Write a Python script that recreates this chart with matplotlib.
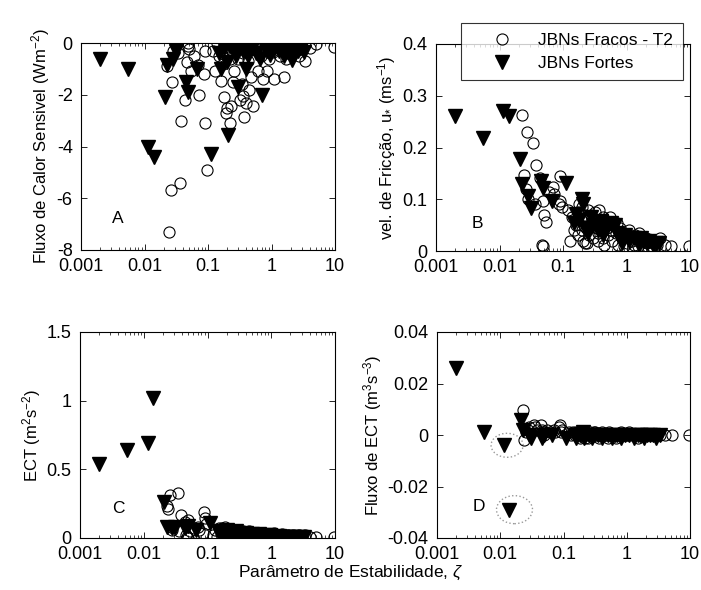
import numpy as np
import matplotlib
matplotlib.use("Agg")
import matplotlib.pyplot as plt
from matplotlib import ticker, transforms
from matplotlib.patches import Ellipse

plt.rcParams['font.family'] = ['Liberation Sans', 'DejaVu Sans']
plt.rcParams['mathtext.fontset'] = 'custom'
plt.rcParams['mathtext.rm'] = 'Liberation Sans'
plt.rcParams['mathtext.it'] = 'Liberation Sans:italic'
plt.rcParams['mathtext.sf'] = 'Liberation Sans'

# ---- JBNs Fortes (triangles) ----
zeta_fortes = [0.002, 0.0055, 0.0115, 0.014, 0.021, 0.023, 0.028, 0.031, 0.045, 0.049, 0.066, 0.11,
               0.15, 0.16, 0.18, 0.2, 0.21, 0.22, 0.25, 0.28, 0.3, 0.35, 0.4, 0.43, 0.5, 0.58,
               0.65, 0.7, 0.8, 0.85, 0.95, 1.1, 1.3, 1.5, 1.6, 1.7, 1.9, 2.1, 2.3, 2.6, 2.9, 3.3]
H_fortes = [-0.6, -1.0, -4.0, -4.4, -2.1, -0.85, -0.6, -0.3, -1.5, -1.9, -1.0, -4.3,
            -0.4, -1.0, -0.2, -0.75, -3.55, -0.1, -0.25, -0.5, -1.7, -0.3, -1.0, -0.5, -0.2, -0.4,
            -0.6, -2.0, -0.1, -0.3, -0.45, -0.2, -0.3, -0.1, -0.5, -0.35, -0.2, -0.65, -0.4, -0.3, -0.2, -0.35]
ustar_fortes = [0.26, 0.218, 0.27, 0.26, 0.177, 0.13, 0.106, 0.084, 0.135, 0.122, 0.097, 0.132,
                0.055, 0.071, 0.06, 0.10, 0.09, 0.045, 0.035, 0.065, 0.05, 0.04, 0.058, 0.03, 0.045, 0.055,
                0.05, 0.035, 0.025, 0.015, 0.03, 0.02, 0.025, 0.02, 0.012, 0.025, 0.02, 0.015, 0.02, 0.012, 0.015, 0.015]
ect_fortes = [0.54, 0.643, 0.69, 1.02, 0.26, 0.08, 0.07, 0.08, 0.07, 0.09, 0.06, 0.11,
              0.04, 0.05, 0.03, 0.06, 0.04, 0.02, 0.03, 0.05, 0.02, 0.03, 0.04, 0.01, 0.03, 0.02,
              0.03, 0.01, 0.02, 0.01, 0.02, 0.01, 0.015, 0.01, 0.005, 0.01, 0.01, 0.005, 0.01, 0.005, 0.01, 0.005]
fect_fortes = [0.026, 0.001, -0.004, -0.029, 0.006, 0.002, 0.0, -0.001, -0.001, 0.0, 0.0, -0.001,
               0.0, -0.001, 0.0, 0.001, -0.001, 0.0, 0.0, -0.001, 0.0, 0.0, -0.001, 0.0, 0.0, -0.001,
               0.0, 0.0, -0.001, 0.0, 0.0, 0.0, -0.001, 0.0, 0.0, 0.0, -0.001, 0.0, 0.0, 0.0, -0.001, 0.0]

# ---- JBNs Fracos - T2 (circles) ----
zeta_fracos = [0.023, 0.024, 0.026, 0.027, 0.028, 0.034, 0.036, 0.038, 0.044, 0.046, 0.048, 0.049,
               0.05, 0.054, 0.061, 0.07, 0.073, 0.086, 0.089, 0.091, 0.095,
               0.12, 0.13, 0.14, 0.15, 0.16, 0.17, 0.18, 0.19, 0.2, 0.21, 0.22, 0.23, 0.24, 0.25,
               0.26, 0.28, 0.3, 0.32, 0.34, 0.36, 0.37, 0.4, 0.42, 0.45, 0.48, 0.52, 0.55, 0.6,
               0.62, 0.68, 0.74, 0.8, 0.84, 0.9, 1.0, 1.1, 1.2, 1.35, 1.5, 1.6, 1.8, 2.0, 2.2,
               2.4, 2.7, 3.0, 3.4, 4.0, 5.1, 9.8,
               0.17, 0.2, 0.22, 0.25, 0.3, 0.35, 0.42, 0.5, 0.58, 0.7, 0.9, 1.05, 1.3, 1.7, 2.1, 2.5]
H_fracos = [-0.9, -7.3, -5.7, -1.5, -0.3, -0.4, -5.4, -3.0, -2.2, -0.75, -0.1, 0.0,
            -0.25, -1.1, -0.5, -0.85, -2.0, -1.2, -0.3, -3.1, -4.9,
            -0.3, -1.1, 0.0, -0.5, -1.45, -0.2, -2.1, -2.7, -2.5, -0.05, -3.1, -2.45, -0.3, -1.5,
            -1.1, 0.0, -0.6, -2.2, -1.6, -2.05, -2.85, -2.3, -0.1, -1.8, -1.3, -2.45, 0.0, -0.3,
            -1.1, -0.5, -1.4, -0.2, -1.1, -0.6, -0.3, -1.4, -0.1, -0.5, -0.2, -1.3, -0.4, -0.1, 0.0,
            -0.3, -0.5, -0.15, -0.7, -0.2, -0.05, -0.15,
            -0.8, -0.15, -0.6, -0.05, -0.15, -0.4, -0.7, -0.15, -0.25, -0.1, -0.1, -0.35, -0.2, -0.6, -0.35, -0.1]
ustar_fracos = [0.263, 0.146, 0.12, 0.23, 0.10, 0.208, 0.09, 0.166, 0.142, 0.012, 0.097, 0.01,
                0.07, 0.057, 0.114, 0.123, 0.11, 0.09, 0.144, 0.097, 0.085,
                0.08, 0.02, 0.065, 0.04, 0.05, 0.03, 0.09, 0.06, 0.085, 0.02, 0.07, 0.045, 0.015, 0.06,
                0.03, 0.07, 0.025, 0.075, 0.05, 0.02, 0.08, 0.04, 0.065, 0.012, 0.055, 0.03, 0.065, 0.02,
                0.05, 0.035, 0.012, 0.045, 0.025, 0.035, 0.015, 0.04, 0.02, 0.03, 0.01, 0.035, 0.02, 0.025, 0.008,
                0.02, 0.015, 0.012, 0.025, 0.012, 0.009, 0.009,
                0.075, 0.04, 0.015, 0.08, 0.055, 0.035, 0.025, 0.045, 0.04, 0.055, 0.01, 0.03, 0.012, 0.028, 0.015, 0.01]
ect_fracos = [0.23, 0.21, 0.31, 0.08, 0.06, 0.33, 0.05, 0.17, 0.12, 0.02, 0.01, 0.0,
              0.13, 0.05, 0.07, 0.08, 0.06, 0.04, 0.19, 0.145, 0.10,
              0.02, 0.06, 0.01, 0.07, 0.03, 0.05, 0.0, 0.08, 0.04, 0.02, 0.06, 0.03, 0.01, 0.05,
              0.02, 0.06, 0.0, 0.04, 0.03, 0.05, 0.01, 0.04, 0.02, 0.05, 0.0, 0.03, 0.04, 0.01,
              0.03, 0.02, 0.04, 0.0, 0.03, 0.02, 0.01, 0.04, 0.0, 0.02, 0.03, 0.01, 0.02, 0.0, 0.02,
              0.01, 0.02, 0.0, 0.02, 0.01, 0.01, 0.01,
              0.07, 0.02, 0.05, 0.03, 0.06, 0.02, 0.03, 0.01, 0.04, 0.02, 0.01, 0.03, 0.01, 0.015, 0.005, 0.01]
fect_fracos = [0.0098, -0.002, 0.001, 0.002, 0.003, 0.0037, 0.003, 0.002, 0.004, 0.002, 0.001, 0.0,
               0.001, 0.002, 0.001, 0.002, 0.001, 0.003, 0.004, 0.001, 0.002,
               0.001, 0.0, 0.001, 0.0, 0.001, 0.0, -0.001, 0.001, 0.0, 0.0, 0.001, 0.0, -0.001, 0.0,
               0.001, 0.0, 0.0, 0.001, 0.0, -0.001, 0.0, 0.001, 0.0, 0.0, 0.0, 0.001, 0.0, 0.0,
               0.0, -0.001, 0.0, 0.001, 0.0, 0.0, 0.0, 0.001, 0.0, 0.0, -0.001, 0.0, 0.0, 0.0, 0.0,
               0.0, 0.0, 0.0, 0.0, 0.0, 0.0, 0.0,
               0.001, 0.0, -0.001, 0.0, 0.001, 0.0, 0.0, -0.001, 0.0, 0.0, 0.0, 0.0, 0.0, 0.0, 0.0, 0.0]

panels = [
    (H_fracos, H_fortes, 'Fluxo de Calor Sensivel (Wm$^{-2}$)', (-8, 0), [-8, -6, -4, -2, 0], 'A'),
    (ustar_fracos, ustar_fortes, 'vel. de Fricção, u$_{*}$ (ms$^{-1}$)', (0, 0.4), [0, 0.1, 0.2, 0.3, 0.4], 'B'),
    (ect_fracos, ect_fortes, 'ECT (m$^{2}$s$^{-2}$)', (0, 1.5), [0, 0.5, 1, 1.5], 'C'),
    (fect_fracos, fect_fortes, 'Fluxo de ECT (m$^{3}$s$^{-3}$)', (-0.04, 0.04), [-0.04, -0.02, 0, 0.02, 0.04], 'D'),
]

rects = [
    [81/701, 340/590, 254/701, 207/590],
    [436/701, 339/590, 254/701, 207/590],
    [80/701, 52/590, 255/701, 206/590],
    [437/701, 52/590, 253/701, 206/590],
]
label_pos = [(0.12, 0.13), (0.14, 0.11), (0.125, 0.12), (0.142, 0.13)]

fig = plt.figure(figsize=(7.01, 5.90), dpi=100)
axes = []
for rect, (yw, ys, ylab, ylim, yt, letter), lp in zip(rects, panels, label_pos):
    ax = fig.add_axes(rect)
    ax.plot(zeta_fracos, yw, 'o', mfc='none', mec='black', mew=0.8, ms=8, label='JBNs Fracos - T2')
    ax.plot(zeta_fortes, ys, 'v', mfc='black', mec='black', ms=9.5, label='JBNs Fortes')
    ax.set_xscale('log')
    ax.set_xlim(0.001, 10)
    ax.set_ylim(*ylim)
    ax.set_yticks(yt)
    ax.yaxis.set_major_formatter(ticker.FuncFormatter(lambda v, p: '%g' % v))
    ax.xaxis.set_major_locator(ticker.FixedLocator([0.001, 0.01, 0.1, 1, 10]))
    ax.xaxis.set_major_formatter(ticker.FuncFormatter(lambda v, p: '%g' % v))
    ax.xaxis.set_minor_locator(ticker.LogLocator(base=10, subs=np.arange(2, 10)))
    ax.xaxis.set_minor_formatter(ticker.NullFormatter())
    ax.tick_params(which='both', direction='in', top=True, right=True, labelsize=13)
    ax.tick_params(axis='x', which='major', pad=6)
    ax.tick_params(axis='y', which='major', pad=6)
    ax.tick_params(which='major', length=4, width=0.6)
    ax.tick_params(which='minor', length=2, width=0.5)
    for sp in ax.spines.values():
        sp.set_linewidth(0.8)
    ax.set_ylabel(ylab, fontsize=12, labelpad=3)
    ax.text(lp[0], lp[1], letter, transform=ax.transAxes, fontsize=12.5)
    axes.append(ax)

leg = axes[1].legend(loc='upper right', bbox_to_anchor=(0.972, 1.101), fancybox=False,
                     edgecolor='black', fontsize=12.5, borderpad=0.55, handletextpad=0.3,
                     labelspacing=0.45, borderaxespad=0, handlelength=3.6)
leg.get_frame().set_linewidth(0.8)
leg.set_zorder(10)

# dotted ellipses around highlighted strong points in panel D
axd = axes[3]
for k, (w, h, dx) in zip([2, 3], [(0.32, 0.24, 0.03), (0.36, 0.28, 0.05)]):
    trans = fig.dpi_scale_trans + transforms.ScaledTranslation(zeta_fortes[k], fect_fortes[k], axd.transData)
    e = Ellipse((dx, 0), w, h, transform=trans, fill=False, ec='#999999', ls=':', lw=1.0)
    axd.add_artist(e)

fig.text(0.5, 0.022, 'Parâmetro de Estabilidade, $\\zeta$', ha='center', fontsize=12.5)

fig.savefig('out.png', dpi=100)
